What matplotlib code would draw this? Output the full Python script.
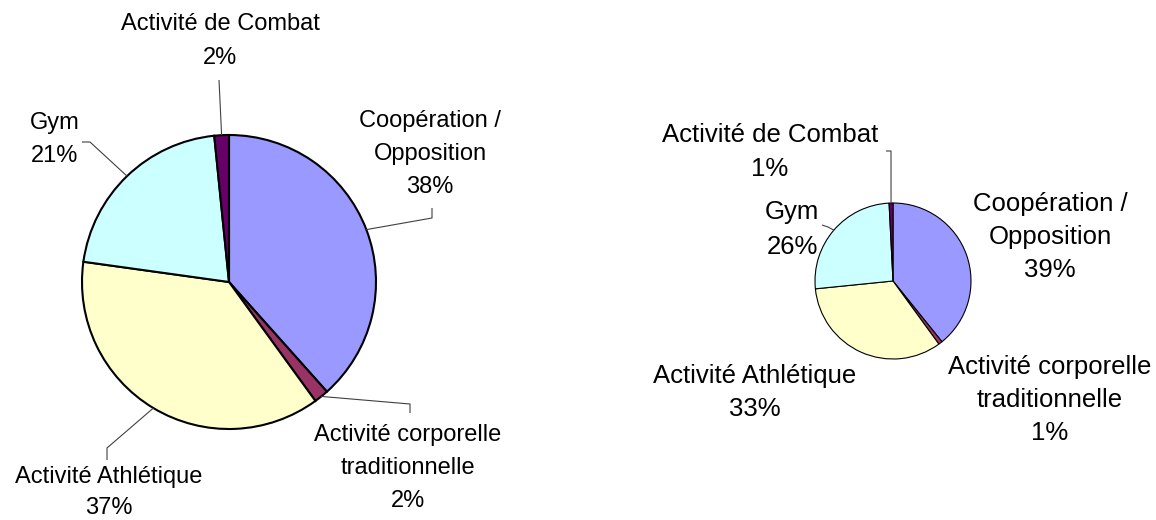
import matplotlib
matplotlib.use("Agg")
import matplotlib.pyplot as plt
import numpy as np

# ---- data ----
categories = ["Coopération /\nOpposition", "Activité corporelle\ntraditionnelle",
              "Activité Athlétique", "Gym", "Activité de Combat"]
values_left = [38.4, 1.6, 37.2, 21.2, 1.6]
values_right = [39.2, 0.8, 33.4, 25.8, 0.8]
colors = ["#9999FF", "#993366", "#FFFFCC", "#CCFFFF", "#660066"]

W, H = 1156, 520
fig = plt.figure(figsize=(W / 100, H / 100), dpi=100)
ax = fig.add_axes([0, 0, 1, 1])

def Y(py):
    return H - py

def edge_point(center, r, values, idx):
    total = float(sum(values))
    cum = sum(values[:idx]) + values[idx] / 2.0
    th = np.deg2rad(90 - 360.0 * cum / total)
    return center[0] + r * np.cos(th), center[1] + r * np.sin(th)

def label(x, y, text, size, gap):
    lines = text.split("\n")
    n = len(lines)
    for i, ln in enumerate(lines):
        yy = y + (i - (n - 1) / 2.0) * gap
        ax.text(x, Y(yy), ln, ha="center", va="center", fontsize=size,
                family="Liberation Sans", color="black")

def leader(center, r, values, idx, pts):
    x0, y0 = edge_point(center, r, values, idx)
    xs = [x0] + [p[0] for p in pts]
    ys = [y0] + [Y(p[1]) for p in pts]
    ax.plot(xs, ys, color="#404040", lw=0.8, solid_capstyle="butt")

# ---- left pie ----
cL, rL = (229, Y(282)), 147
ax.pie(values_left, colors=colors, center=cL, radius=rL, startangle=90,
       counterclock=False, wedgeprops=dict(edgecolor="black", linewidth=1.5))

# ---- right pie ----
cR, rR = (893, Y(281)), 78
ax.pie(values_right, colors=colors, center=cR, radius=rR, startangle=90,
       counterclock=False, wedgeprops=dict(edgecolor="black", linewidth=0.8))

def pct(v):
    return f"{int(round(v))}%"

# left labels
leader(cL, rL, values_left, 0, [(432, 218), (432, 208)])
leader(cL, rL, values_left, 1, [(410, 404), (410, 413)])
leader(cL, rL, values_left, 2, [(107, 448), (107, 460)])
leader(cL, rL, values_left, 3, [(90, 142), (82, 142)])
leader(cL, rL, values_left, 4, [(219, 80)])

sL, gL = 17, 33
label(430, 154, categories[0] + "\n" + pct(values_left[0]), sL, gL)
label(408, 468, categories[1] + "\n" + pct(values_left[1]), sL, gL)
label(109, 492, categories[2] + "\n" + pct(values_left[2]), sL, 31)
label(55, 140, categories[3] + "\n" + pct(values_left[3]), sL, gL)
label(220, 41, categories[4] + "\n" + pct(values_left[4]), sL, gL)

# right labels
leader(cR, rR, values_right, 4, [(891, 151), (886, 151)])
leader(cR, rR, values_right, 3, [(828, 227), (822, 225)])

sR, gR = 18.5, 33
label(1050, 237, categories[0] + "\n" + pct(values_right[0]), sR, gR)
label(1050, 400, categories[1] + "\n" + pct(values_right[1]), sR, gR)
label(755, 393, categories[2] + "\n" + pct(values_right[2]), sR, gR)
label(792, 230, categories[3] + "\n" + pct(values_right[3]), sR, 35)
label(770, 152, categories[4] + "\n" + pct(values_right[4]), sR, 35)

ax.set_xlim(0, W)
ax.set_ylim(0, H)
ax.set_aspect("equal")
ax.axis("off")
fig.savefig("out.png", dpi=100, facecolor="white")
